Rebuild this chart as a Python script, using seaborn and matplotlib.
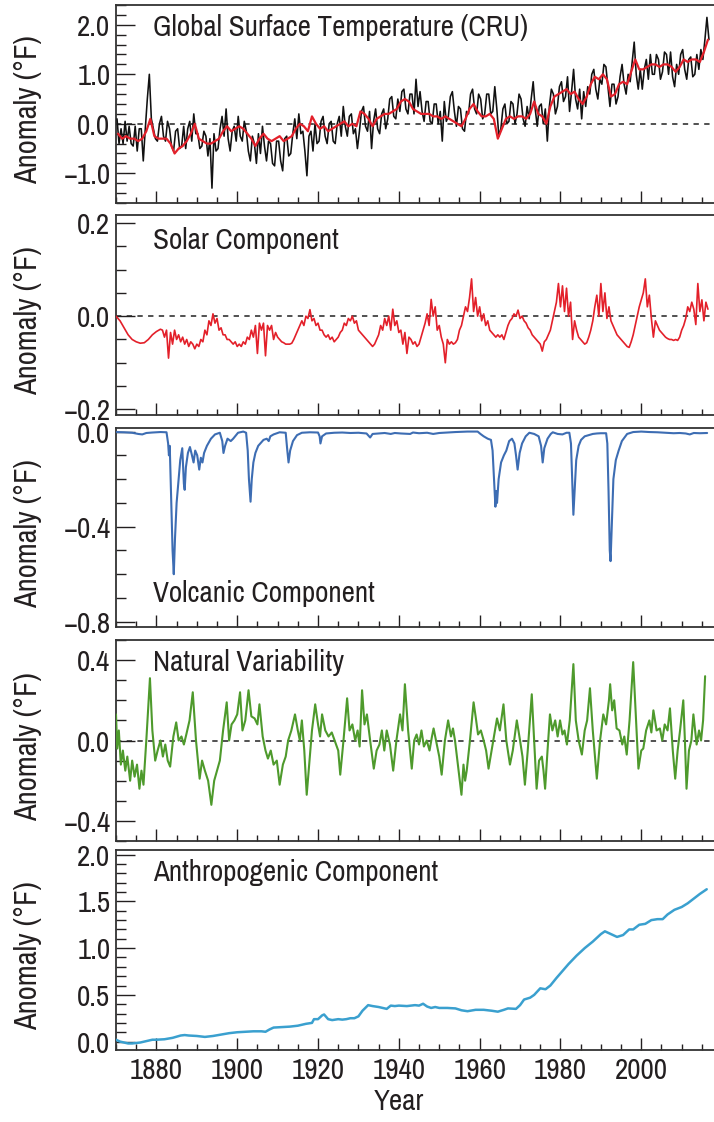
import numpy as np
import pandas as pd
import matplotlib
matplotlib.use("Agg")
import matplotlib.pyplot as plt
import seaborn as sns
from matplotlib.ticker import MultipleLocator, FuncFormatter, NullFormatter
from matplotlib import font_manager

# ---------------- DATA ----------------
# Global surface temperature (CRU), half-year values 1870.25 ... 2016.75
cru_values = [
    0.1, -0.4, -0.1, -0.4, 0.05, -0.35, -0.05, -0.4, -0.45, -0.05, -0.55, -0.1, -0.1, -0.75, -0.1, 0.5, 1.0, 0.1, -0.1, -0.3,
    -0.35, 0.0, 0.15, -0.25, -0.35, 0.05, -0.1, -0.45, -0.55, -0.15, -0.1, -0.5, -0.45, -0.05, -0.5, -0.1, 0.05, -0.35, 0.2, -0.2,
    -0.2, -0.5, -0.45, -0.15, -0.25, -0.65, -0.3, -1.3, -0.2, -0.55, -0.5, -0.1, 0.15, -0.25, 0.3, -0.3, -0.55, -0.15, -0.05, -0.35,
    0.15, -0.25, -0.35, 0.05, -0.15, -0.55, -0.75, -0.25, -0.4, -0.8, -0.2, -0.6, -0.05, -0.45, -0.75, -0.35, -0.4, -0.8, -0.85, -0.35,
    -0.35, -0.75, -0.95, -0.3, -0.25, -0.65, -0.6, -0.2, 0.1, -0.3, 0.2, -0.2, -0.15, -0.55, -1.05, -0.25, -0.15, -0.55, 0.0, -0.4,
    -0.35, 0.05, 0.15, -0.25, -0.4, 0.0, 0.05, -0.35, -0.4, 0.0, 0.15, -0.25, 0.35, -0.05, -0.25, 0.15, 0.2, -0.2, -0.1, -0.5,
    -0.15, 0.25, 0.35, -0.05, -0.15, 0.25, -0.5, 0.05, 0.3, -0.1, -0.2, 0.2, 0.3, -0.1, 0.1, 0.5, 0.55, 0.15, 0.1, 0.5,
    0.25, 0.65, 0.7, 0.3, 0.2, 0.6, 0.6, 0.2, 0.9, 0.35, 0.65, 0.25, 0.05, 0.45, 0.45, 0.05, 0.0, 0.4, 0.4, 0.0,
    0.25, -0.35, 0.45, 0.05, 0.15, 0.55, 0.65, 0.25, -0.05, 0.35, 0.3, -0.1, -0.15, 0.25, 0.2, 0.6, 0.7, 0.3, 0.2, 0.6,
    0.5, 0.1, 0.2, 0.6, 0.6, 0.2, 0.25, 0.75, 0.3, -0.25, -0.1, 0.3, 0.4, 0.0, 0.05, 0.45, 0.4, 0.0, 0.2, 0.6,
    0.5, 0.1, -0.05, 0.35, 0.1, 0.5, 0.85, 0.3, -0.05, 0.35, 0.4, 0.0, 0.3, -0.35, 0.35, 0.7, 0.6, 0.2, 0.35, 0.75,
    0.85, 0.45, 0.55, 0.95, 0.25, 0.65, 1.1, 0.5, 0.3, 0.7, 0.1, 0.65, 0.35, 0.75, 0.6, 1.0, 1.1, 0.7, 0.5, 0.9,
    0.8, 1.2, 1.15, 0.75, 0.35, 0.8, 0.8, 0.4, 0.55, 0.95, 1.2, 0.8, 0.6, 1.0, 0.85, 1.25, 1.65, 1.0, 0.7, 1.1,
    0.7, 1.1, 1.3, 0.9, 1.4, 1.0, 1.0, 1.4, 1.3, 0.9, 1.05, 1.45, 1.4, 1.0, 1.45, 0.95, 0.75, 1.2, 1.0, 1.4,
    1.5, 1.1, 0.9, 1.3, 1.35, 0.95, 1.0, 1.4, 1.1, 1.5, 1.3, 1.7, 2.15, 1.7,
]
cru_years = [y + h for y in range(1870, 2017) for h in (0.25, 0.75)]

# Fitted (red) curve, annual values 1870.5 ... 2016.5
fit_values = [
    -0.2, -0.3, -0.25, -0.3, -0.3, -0.35, -0.3, -0.15, 0.1, -0.25,
    -0.3, -0.3, -0.3, -0.4, -0.6, -0.5, -0.45, -0.35, -0.2, 0.0,
    -0.3, -0.35, -0.4, -0.4, -0.35, -0.3, -0.15, -0.05, -0.15, -0.1,
    -0.05, -0.1, -0.2, -0.3, -0.45, -0.3, -0.2, -0.3, -0.35, -0.3,
    -0.25, -0.35, -0.3, -0.25, -0.1, 0.0, -0.05, -0.15, 0.15, 0.0,
    -0.1, -0.05, -0.15, -0.1, -0.05, 0.0, 0.05, -0.05, 0.0, -0.05,
    0.25, 0.2, 0.1, -0.05, 0.1, 0.15, 0.2, 0.2, 0.25, 0.3,
    0.45, 0.5, 0.45, 0.3, 0.25, 0.2, 0.2, 0.2, 0.15, 0.15,
    0.1, 0.15, 0.1, 0.05, 0.0, -0.05, 0.1, 0.3, 0.4, 0.25,
    0.15, 0.15, 0.2, 0.1, -0.3, -0.1, 0.1, 0.15, 0.1, 0.15,
    0.15, 0.1, 0.2, 0.45, 0.2, 0.15, 0.0, 0.35, 0.55, 0.6,
    0.65, 0.7, 0.6, 0.65, 0.5, 0.4, 0.55, 0.8, 0.95, 0.9,
    1.0, 0.9, 0.55, 0.6, 0.8, 0.85, 0.8, 1.05, 1.3, 1.1,
    1.1, 1.15, 1.2, 1.2, 1.15, 1.2, 1.2, 1.15, 1.05, 1.15,
    1.3, 1.25, 1.3, 1.3, 1.25, 1.45, 1.7,
]
fit_years = [y + 0.5 for y in range(1870, 2017)]

# Solar component
solar_early_years = [1870.0, 1871, 1872, 1873, 1874, 1875, 1876, 1877, 1878, 1879, 1880, 1881, 1881.5]
solar_early_values = [0.0, -0.01, -0.025, -0.04, -0.05, -0.055, -0.058, -0.057, -0.05, -0.04, -0.033, -0.028, -0.03]
solar_values = [
    -0.045, -0.03, -0.09, -0.035, -0.06, -0.03, -0.05, -0.04, -0.055, -0.045, -0.06, -0.05, -0.065, -0.055, -0.06, -0.07,
    -0.06, -0.065, -0.05, -0.055, -0.03, -0.04, -0.01, -0.02, 0.005, -0.015, -0.005, -0.03, -0.025, -0.04, -0.04, -0.05,
    -0.05, -0.055, -0.06, -0.055,
    -0.065, -0.06, -0.065, -0.055, -0.06, -0.045, -0.05, -0.03, -0.045, -0.02, -0.08, -0.015, -0.03, -0.015, -0.085, -0.02,
    -0.03, -0.02, -0.05, -0.035,
    -0.045, -0.05, -0.055, -0.057, -0.06, -0.06, -0.06, -0.058, -0.05, -0.04, -0.03, -0.02, -0.01, -0.02, 0.0, -0.005,
    0.014, -0.01, -0.005, -0.02,
    -0.015, -0.03, -0.03, -0.04, -0.045, -0.04, -0.05, -0.045, -0.055, -0.05, -0.045, -0.035, -0.03, -0.015, -0.02, -0.005,
    -0.01, 0.0, -0.015, -0.01,
    -0.03, -0.035, -0.04, -0.045, -0.05, -0.055, -0.06, -0.065, -0.06, -0.05, -0.04, -0.02, -0.03, -0.005, -0.02, 0.0,
    -0.03, 0.015, -0.02, -0.01,
    -0.035, -0.03, -0.06, -0.035, -0.08, -0.045, -0.05, -0.06, -0.055, -0.065, -0.06, -0.045, -0.03, -0.015, 0.005, -0.02,
    0.036, 0.0, 0.02, -0.03,
    -0.02, -0.045, -0.06, -0.1, -0.05, -0.06, -0.055, -0.06, -0.057, -0.05, -0.03, -0.02, 0.0, 0.02, 0.01, 0.04,
    0.08, 0.01, 0.04, 0.0,
    0.02, -0.01, 0.005, -0.02, -0.01, -0.03, -0.035, -0.04, -0.045, -0.04, -0.045, -0.04, -0.05, -0.035, -0.02, -0.01,
    -0.005, 0.005, 0.0, 0.013,
    -0.005, 0.0, -0.01, -0.015, -0.025, -0.03, -0.04, -0.045, -0.05, -0.055, -0.06, -0.075, -0.055, -0.05, -0.04, -0.03,
    -0.01, 0.01, 0.03, 0.07,
    0.02, 0.065, 0.01, 0.06, 0.0, 0.03, -0.05, -0.01, -0.03, -0.045, -0.05, -0.055, -0.06, -0.057, -0.045, -0.03,
    -0.01, 0.02, 0.045, 0.0,
    0.07, 0.01, 0.05, -0.005, 0.02, -0.01, -0.02, -0.03, -0.04, -0.045, -0.05, -0.055, -0.06, -0.065, -0.067, -0.055,
    -0.04, -0.02, 0.0, 0.02,
    0.035, 0.05, 0.08, 0.02, 0.045, -0.005, -0.045, -0.01, -0.02, -0.03, -0.035, -0.04, -0.045, -0.048, -0.05, -0.05,
    -0.052, -0.05, -0.052, -0.045,
    -0.03, -0.02, -0.005, 0.02, 0.01, 0.03, 0.015, -0.018, 0.07, 0.01, 0.035, -0.01, 0.03, 0.015,
]
solar_years = solar_early_years + [y + h for y in range(1882, 2017) for h in (0.0, 0.5)]
solar_all = solar_early_values + solar_values

# Volcanic component
volc_years = [
    1870.0, 1872, 1874, 1875.5, 1876.5, 1877.5, 1879, 1881, 1882.5, 1882.9, 1883.1, 1883.3, 1883.6, 1884.0, 1884.3,
    1884.6, 1885.0, 1885.5, 1885.9, 1886.4, 1886.8, 1887.0, 1887.3, 1887.8, 1888.3, 1888.8, 1889.2, 1889.6, 1890.1,
    1890.6, 1891.0, 1891.4, 1891.8, 1892.5, 1893.5, 1894.5, 1895.7, 1896.3, 1896.6, 1897.0, 1897.6, 1898.4, 1899.0,
    1900.2, 1901.5, 1902.2, 1902.6, 1902.9, 1903.3, 1903.6, 1904.0, 1904.5, 1905.2, 1906.0, 1906.5, 1907.3, 1907.8,
    1908.2, 1909.0, 1910.5, 1912.0, 1912.4, 1912.7, 1913.1, 1913.8, 1914.8, 1916, 1918, 1920, 1920.4, 1920.6, 1921.0,
    1922, 1924, 1926, 1928, 1930, 1932, 1932.9, 1933.5, 1935, 1936.5, 1938, 1939, 1940.5, 1942.8, 1943.5, 1945, 1947,
    1948.5, 1950, 1952, 1954, 1957, 1959.5, 1960.2, 1961, 1962, 1962.8, 1963.2, 1963.6, 1963.9, 1964.1, 1964.3, 1964.7,
    1965.3, 1966.0, 1966.6, 1967.3, 1968.0, 1968.6, 1969.0, 1969.4, 1969.9, 1970.5, 1971.4, 1972.3, 1973.5, 1974.6,
    1975.2, 1975.6, 1976.0, 1976.8, 1977.6, 1978.1, 1979.3, 1980.5, 1981.5, 1982.2, 1982.6, 1982.9, 1983.2, 1983.5,
    1983.9, 1984.5, 1985.1, 1986, 1987, 1988, 1989, 1990, 1991.3, 1991.6, 1991.9, 1992.2, 1992.4, 1992.7, 1993.1,
    1993.7, 1994.4, 1995.2, 1996.5, 1998, 2000, 2002, 2004, 2006, 2008, 2009.5, 2011, 2012, 2013, 2014.5, 2016.3,
]
volc_values = [
    -0.002, -0.003, -0.005, -0.01, -0.012, -0.006, -0.004, -0.002, -0.003, -0.05, -0.1, -0.06, -0.25, -0.5, -0.6,
    -0.45, -0.3, -0.2, -0.12, -0.07, -0.22, -0.245, -0.15, -0.09, -0.065, -0.1, -0.13, -0.08, -0.1,
    -0.16, -0.11, -0.13, -0.09, -0.06, -0.03, -0.012, -0.005, -0.04, -0.09, -0.06, -0.03, -0.04, -0.03,
    -0.005, 0.0, -0.005, -0.08, -0.2, -0.295, -0.2, -0.13, -0.09, -0.06, -0.045, -0.035, -0.03, -0.04,
    -0.02, -0.012, -0.003, -0.005, -0.08, -0.13, -0.08, -0.04, -0.015, -0.005, -0.003, -0.004, -0.02, -0.05, -0.02,
    -0.008, -0.005, -0.004, -0.006, -0.005, -0.008, -0.025, -0.01, -0.008, -0.006, -0.01, -0.006, -0.008, -0.01, -0.004, -0.007, -0.005,
    -0.01, -0.006, -0.004, -0.002, 0.0, 0.0, -0.01, -0.02, -0.03, -0.035, -0.08, -0.22, -0.316, -0.25, -0.3, -0.2,
    -0.13, -0.1, -0.08, -0.04, -0.03, -0.05, -0.1, -0.16, -0.09, -0.05, -0.02, -0.005, -0.01, -0.02,
    -0.06, -0.13, -0.07, -0.03, -0.01, -0.003, -0.01, -0.012, -0.005, -0.005, -0.05, -0.2, -0.35, -0.25,
    -0.12, -0.06, -0.035, -0.02, -0.015, -0.01, -0.008, -0.007, -0.007, -0.05, -0.25, -0.5, -0.545, -0.4, -0.2,
    -0.12, -0.08, -0.04, -0.01, -0.002, 0.0, -0.002, -0.003, -0.005, -0.007, -0.006, -0.008, -0.012, -0.006, -0.007, -0.006,
]

# Natural variability
nat_years = [
    1870.0, 1870.3, 1870.7, 1871.2, 1871.7, 1872.3, 1872.8, 1873.5, 1874.0, 1874.6, 1875.2, 1875.8, 1876.3, 1876.8,
    1877.5, 1878.4, 1879.0, 1879.7, 1880.3, 1881.0, 1881.6, 1882.2, 1882.8, 1883.4, 1884.2, 1884.9, 1885.5, 1886.2,
    1886.8, 1887.4, 1888.2, 1889.0, 1889.8, 1890.7, 1891.3, 1892.0, 1892.8, 1893.6, 1894.3, 1895.0, 1895.7, 1896.5,
    1897.4, 1898.0, 1898.6, 1899.3, 1900.0, 1900.7, 1901.3, 1902.0, 1902.8, 1903.5, 1904.3, 1905.0, 1905.5, 1906.3,
    1907.0, 1907.6, 1908.3, 1909.0, 1909.8, 1910.5, 1911.3, 1912.0, 1912.6, 1913.4, 1914.3, 1915.0, 1915.5, 1916.0,
    1916.6, 1917.2, 1917.8, 1918.5, 1919.3, 1920.0, 1920.5, 1921.0, 1921.8, 1922.6, 1923.4, 1924.3, 1925.0, 1925.5,
    1926.3, 1927.2, 1927.8, 1928.5, 1929.2, 1929.8, 1930.3, 1930.9, 1931.5, 1932.1, 1932.9, 1933.8, 1934.5, 1935.2,
    1935.8, 1936.4, 1937.0, 1937.8, 1938.6, 1939.4, 1940.3, 1940.9, 1941.5, 1942.3, 1943.2, 1943.8, 1944.4, 1945.0,
    1945.6, 1946.2, 1946.9, 1947.6, 1948.2, 1948.6, 1949.4, 1950.0, 1950.6, 1951.4, 1952.2, 1952.9, 1953.4, 1953.9,
    1954.6, 1955.5, 1956.0, 1956.4, 1956.8, 1957.6, 1958.5, 1959.0, 1959.6, 1960.3, 1961.0, 1961.6, 1962.2, 1963.2,
    1964.3, 1965.0, 1965.9, 1966.6, 1967.5, 1968.2, 1969.2, 1970.0, 1970.6, 1971.2, 1971.9, 1972.9, 1973.5, 1974.1,
    1974.7, 1975.4, 1975.8, 1976.2, 1976.8, 1977.4, 1978.0, 1978.7, 1979.3, 1979.9, 1980.5, 1981.0, 1981.6, 1982.3,
    1983.2, 1983.8, 1984.5, 1985.3, 1986.0, 1986.6, 1987.3, 1988.0, 1989.0, 1989.8, 1990.6, 1991.3, 1992.0, 1992.3,
    1992.8, 1993.3, 1993.9, 1994.6, 1995.3, 1995.8, 1996.4, 1997.1, 1998.0, 1998.6, 1999.3, 2000.0, 2000.5, 2001.2,
    2002.0, 2002.5, 2003.0, 2003.8, 2004.6, 2005.2, 2005.8, 2006.5, 2007.1, 2007.8, 2008.4, 2009.0, 2009.6, 2010.4,
    2010.8, 2011.2, 2011.8, 2012.4, 2012.9, 2013.7, 2014.3, 2014.8, 2015.3, 2015.8,
]
nat_values = [
    0.13, -0.04, 0.05, -0.12, -0.05, -0.15, -0.08, -0.2, -0.1, -0.18, -0.12, -0.24, -0.15, -0.22,
    0.0, 0.31, 0.05, -0.1, -0.05, 0.0, -0.08, -0.02, -0.1, -0.13, 0.02, 0.09, 0.0, 0.02,
    -0.02, 0.03, 0.1, 0.24, 0.0, -0.19, -0.1, -0.15, -0.2, -0.32, -0.2, -0.15, -0.1, 0.05,
    0.19, 0.0, 0.08, 0.1, 0.13, 0.24, 0.05, 0.1, 0.25, 0.12, 0.11, 0.08, 0.18, 0.02,
    -0.05, -0.09, -0.05, -0.12, -0.1, -0.22, -0.12, -0.08, 0.0, 0.05, 0.13, 0.05, 0.0, 0.1,
    -0.05, -0.27, -0.12, 0.05, 0.18, 0.08, 0.02, 0.13, 0.05, 0.02, 0.04, -0.01, -0.05, -0.17,
    0.0, 0.21, 0.05, 0.08, 0.0, 0.05, -0.03, 0.25, 0.08, 0.13, 0.0, -0.14, -0.05, -0.02,
    0.05, -0.05, 0.05, -0.02, -0.15, 0.0, 0.13, 0.05, 0.28, 0.05, -0.14, 0.0, 0.03, -0.02,
    0.05, -0.03, 0.0, -0.05, 0.02, 0.06, -0.02, -0.08, -0.17, 0.0, 0.1, 0.02, 0.06, 0.0,
    -0.12, -0.27, -0.12, -0.2, -0.15, 0.0, 0.19, 0.12, 0.03, 0.05, 0.0, -0.05, -0.14, -0.02,
    0.11, 0.05, 0.18, 0.0, -0.12, -0.05, 0.1, 0.0, -0.08, -0.22, -0.05, 0.23, 0.0, -0.24,
    -0.1, -0.08, -0.15, -0.24, -0.05, 0.13, 0.05, 0.1, 0.02, 0.1, 0.03, 0.05, -0.02, 0.1,
    0.38, 0.1, 0.0, -0.07, 0.05, 0.1, 0.26, 0.05, -0.19, 0.0, 0.13, 0.08, 0.2, 0.28,
    0.15, 0.2, 0.06, 0.05, -0.02, 0.02, -0.07, 0.1, 0.39, 0.15, -0.14, -0.05, -0.04, 0.05,
    0.1, 0.04, 0.15, 0.05, 0.06, 0.0, 0.08, 0.05, 0.16, -0.05, -0.19, -0.05, 0.05, 0.2,
    0.0, -0.24, -0.05, 0.0, 0.13, -0.02, 0.05, 0.0, 0.1, 0.32,
]

# Anthropogenic component
anth_years = [
    1870, 1871, 1872, 1873, 1874, 1875, 1876, 1877, 1878, 1879, 1880, 1882, 1884, 1886, 1887, 1888, 1890, 1892,
    1894, 1896, 1898, 1900, 1902, 1904, 1906, 1907, 1908, 1909, 1911, 1913, 1915, 1917, 1918.5, 1919, 1920, 1921,
    1921.5, 1922.5, 1923.5, 1925, 1926, 1927, 1928, 1929, 1930, 1931, 1932.4, 1933.5, 1935, 1936, 1937, 1938, 1939,
    1940, 1942, 1944, 1945, 1946, 1947, 1948, 1949, 1950, 1952, 1954, 1955.5, 1957, 1959, 1961, 1963, 1964.5, 1966,
    1967, 1969, 1970, 1971, 1972.5, 1973.5, 1975, 1976.3, 1977.5, 1979, 1980.2, 1982, 1984, 1986, 1988, 1990, 1991,
    1992.5, 1994, 1995.5, 1997, 1998, 1999.5, 2001, 2002.5, 2004, 2005.3, 2006.5, 2008.2, 2010, 2011.5, 2013, 2014.5,
    2016.2,
]
anth_values = [
    0.02, 0.0, -0.01, -0.02, -0.02, -0.015, -0.01, 0.0, 0.01, 0.02, 0.02, 0.025, 0.04, 0.065, 0.07, 0.065, 0.06, 0.05,
    0.06, 0.075, 0.09, 0.1, 0.105, 0.11, 0.11, 0.105, 0.13, 0.15, 0.155, 0.16, 0.17, 0.19, 0.2, 0.24, 0.24, 0.28,
    0.29, 0.24, 0.23, 0.24, 0.235, 0.24, 0.25, 0.25, 0.27, 0.33, 0.39, 0.38, 0.37, 0.36, 0.35, 0.385, 0.38,
    0.385, 0.38, 0.39, 0.385, 0.405, 0.375, 0.36, 0.37, 0.36, 0.36, 0.355, 0.335, 0.325, 0.34, 0.34, 0.33, 0.32, 0.34,
    0.355, 0.35, 0.39, 0.45, 0.47, 0.5, 0.57, 0.56, 0.6, 0.68, 0.74, 0.83, 0.92, 1.0, 1.07, 1.15, 1.18,
    1.15, 1.12, 1.14, 1.2, 1.2, 1.25, 1.26, 1.3, 1.31, 1.31, 1.36, 1.41, 1.44, 1.48, 1.53, 1.58,
    1.63,
]

panel_titles = ["Global Surface Temperature (CRU)", "Solar Component", "Volcanic Component",
                "Natural Variability", "Anthropogenic Component"]
x_ticks = [1880, 1900, 1920, 1940, 1960, 1980, 2000]

# ---------------- STYLE ----------------
sns.set_theme(style="ticks")
avail = {f.name for f in font_manager.fontManager.ttflist}
main_font = "Liberation Sans"
for cand in ["Liberation Sans Narrow", "Arial Narrow", "Archivo Narrow", "PT Sans Narrow",
             "Roboto Condensed", "Open Sans Condensed", "Barlow Semi Condensed"]:
    if cand in avail:
        main_font = cand
        break
plt.rcParams["font.family"] = [main_font, "DejaVu Sans"]
TXT = "#231f20"

fig = plt.figure(figsize=(7.14, 11.22), dpi=100)

# calibrate font size so the first panel title spans ~375 px as in the reference
probe = fig.text(0, 0, panel_titles[0], fontsize=20)
fig.canvas.draw()
w20 = probe.get_window_extent().width
probe.remove()
FS = max(14.0, min(22.0, 20.0 * 375.0 / w20))

W, H = 714.0, 1122.0
left_px, right_px = 116, 714
panels_px = [(5, 203), (215, 415), (428, 627), (640, 841), (850, 1050)]
axes = []
for top, bot in panels_px:
    ax = fig.add_axes([left_px / W, 1 - bot / H, (right_px - left_px) / W, (bot - top) / H])
    axes.append(ax)

def fmt(v, pos):
    s = f"{v:.1f}"
    if s == "-0.0":
        s = "0.0"
    return s.replace("-", "\u2212")

ylims = [(-1.6, 2.4), (-0.212, 0.217), (-0.822, 0.015), (-0.5, 0.5), (-0.09, 2.05)]
ymaj = [1.0, 0.2, 0.4, 0.4, 0.5]
ymin = [0.2, 0.05, 0.1, 0.1, 0.1]
title_y = [0.884, 0.875, 0.166, 0.886, 0.885]

sns.lineplot(x=cru_years, y=cru_values, ax=axes[0], color="#111111", lw=1.15,
             estimator=None, sort=False, zorder=3)
sns.lineplot(x=fit_years, y=fit_values, ax=axes[0], color="#e3202a", lw=1.6,
             estimator=None, sort=False, zorder=4)
sns.lineplot(x=solar_years, y=solar_all, ax=axes[1], color="#e3202a", lw=1.2,
             estimator=None, sort=False, zorder=3)
sns.lineplot(x=volc_years, y=volc_values, ax=axes[2], color="#3d6db3", lw=1.5,
             estimator=None, sort=False, zorder=3)
sns.lineplot(x=nat_years, y=nat_values, ax=axes[3], color="#4e9a2c", lw=1.5,
             estimator=None, sort=False, zorder=3)
sns.lineplot(x=anth_years, y=anth_values, ax=axes[4], color="#3aa0cf", lw=1.8,
             estimator=None, sort=False, zorder=3)

for i, ax in enumerate(axes):
    ax.set_xlim(1870, 2018)
    ax.set_ylim(*ylims[i])
    if i in (0, 1, 3):
        ax.axhline(0, color="#222222", lw=1.1, ls=(0, (3.5, 3.5)), zorder=1)
    ax.xaxis.set_major_locator(MultipleLocator(20))
    ax.xaxis.set_minor_locator(MultipleLocator(5))
    ax.yaxis.set_major_locator(MultipleLocator(ymaj[i]))
    ax.yaxis.set_minor_locator(MultipleLocator(ymin[i]))
    ax.yaxis.set_major_formatter(FuncFormatter(fmt))
    ax.tick_params(axis="x", which="major", direction="in", length=8.5, width=1.0, color=TXT,
                   labelsize=FS, labelcolor=TXT, pad=5)
    ax.tick_params(axis="x", which="minor", direction="in", length=4.5, width=1.0, color=TXT)
    ax.tick_params(axis="y", which="major", direction="in", length=13.5, width=1.0, color=TXT,
                   labelsize=FS, labelcolor=TXT, pad=4)
    ax.tick_params(axis="y", which="minor", direction="in", length=7, width=1.0, color=TXT)
    ax.tick_params(top=False, right=False, which="both")
    for side in ("left", "bottom", "top"):
        ax.spines[side].set_color("#333333")
        ax.spines[side].set_linewidth(1.3)
    ax.spines["right"].set_visible(False)
    ax.set_ylabel("Anomaly (\u00b0F)", fontsize=FS * 1.05, color=TXT)
    ax.yaxis.set_label_coords(-0.124, 0.47)
    ax.text(0.062, title_y[i], panel_titles[i], transform=ax.transAxes, fontsize=FS,
            color=TXT, ha="left", va="center")
    ax.grid(False)
    if i < 4:
        ax.xaxis.set_major_formatter(NullFormatter())
        ax.set_xlabel("")
    else:
        ax.set_xticks(x_ticks)
        ax.set_xticklabels([str(t) for t in x_ticks])
        ax.set_xlabel("Year", fontsize=FS, color=TXT)
        ax.xaxis.set_label_coords((399 - 116) / 598, -0.19)

fig.savefig("out.png", dpi=100)
